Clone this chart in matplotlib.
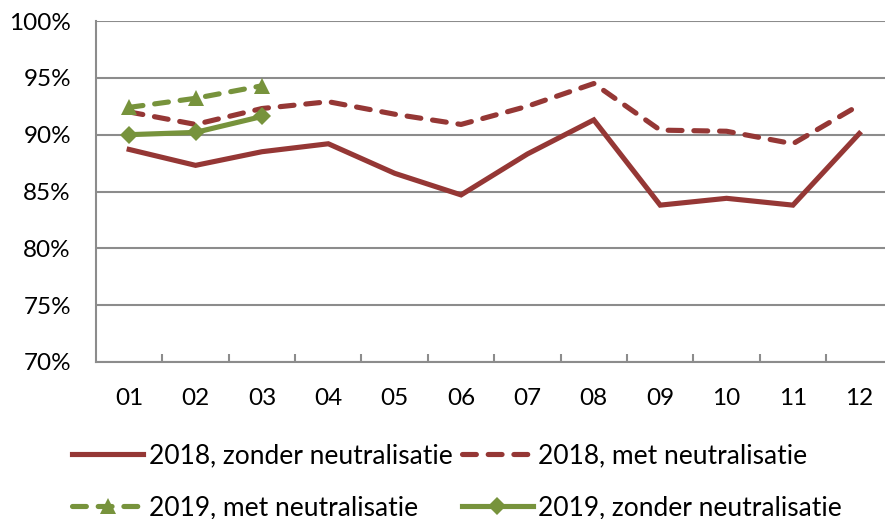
import numpy as np
from matplotlib import pyplot as plt

# month labels on the x axis
months = ['01', '02', '03', '04', '05', '06', '07', '08', '09', '10', '11', '12']

# 2018 series (fractions)
zonder_2018 = [0.887, 0.873, 0.885, 0.892, 0.866, 0.847, 0.883, 0.913, 0.838, 0.844, 0.838, 0.901]
met_2018 = [0.920, 0.909, 0.923, 0.929, 0.918, 0.909, 0.925, 0.945, 0.904, 0.903, 0.892, 0.926]

# 2019 series, only first three months available
met_2019 = [0.924, 0.932, 0.943]
zonder_2019 = [0.900, 0.902, 0.916]

y_ticks = [0.70, 0.75, 0.80, 0.85, 0.90, 0.95, 1.00]

red = '#953735'
green = '#77933C'
grey = '#8C8C8C'

plt.rcParams['font.family'] = ['Lato', 'DejaVu Sans']

fig = plt.figure(figsize=(8.85, 5.19), dpi=100)
W, H = 885, 519
# axes box in pixels: left spine at ~96, top gridline 21, bottom axis 362
left, top, bottom = 96, 21, 362
ax = fig.add_axes([left / W, 1 - bottom / H, 1 - left / W, (bottom - top) / H])

x = np.arange(1, len(months) + 1)
x19 = np.arange(1, len(met_2019) + 1)

lw = 3.7
dash = (2.7, 2.3)

l1, = ax.plot(x, zonder_2018, color=red, lw=lw, solid_joinstyle='miter', zorder=3)
l2, = ax.plot(x, met_2018, color=red, lw=lw, dashes=dash, dash_capstyle='round', zorder=3)
l3, = ax.plot(x19, met_2019, color=green, lw=lw, dashes=dash, dash_capstyle='round',
              marker='^', markersize=11, markeredgewidth=0, zorder=4)
l4, = ax.plot(x19, zonder_2019, color=green, lw=lw, marker='D', markersize=9.5,
              markeredgewidth=0, zorder=4)

# category axis: each month occupies one slot of ~66px, right side runs off the image
ax.set_xlim(0.5, 12.5 - (892.5 - 885) / 66.4)
ax.set_ylim(0.70, 1.00)
ax.set_yticks(y_ticks)
ax.set_yticklabels(['{:d}%'.format(int(round(v * 100))) for v in y_ticks])
ax.set_xticks(x)
ax.set_xticklabels(months)
ax.set_xticks(np.arange(1.5, 12.5, 1), minor=True)

ax.grid(axis='y', color=grey, lw=1.5, zorder=1)
ax.set_axisbelow(True)
for s in ['top', 'right']:
    ax.spines[s].set_visible(False)
for s in ['left', 'bottom']:
    ax.spines[s].set_color(grey)
    ax.spines[s].set_linewidth(1.5)

ax.tick_params(axis='y', length=0, pad=18, labelsize=17.5)
ax.tick_params(axis='x', which='major', length=0, pad=19, labelsize=17.5)
ax.tick_params(axis='x', which='minor', direction='in', length=6, width=1.5, color=grey)

# legend: two rows, matplotlib fills column-wise so order handles accordingly
handles = [l1, l3, l2, l4]
labels = ['2018, zonder neutralisatie', '2019, met neutralisatie',
          '2018, met neutralisatie', '2019, zonder neutralisatie']
fig.legend(handles, labels, ncol=2, loc='upper left', bbox_to_anchor=(72 / W, 1 - 443 / H),
           frameon=False, fontsize=19, handlelength=2.7, handletextpad=0.2,
           columnspacing=0.35, labelspacing=1.05, borderaxespad=0, borderpad=0)

fig.savefig('out.png', dpi=100)
